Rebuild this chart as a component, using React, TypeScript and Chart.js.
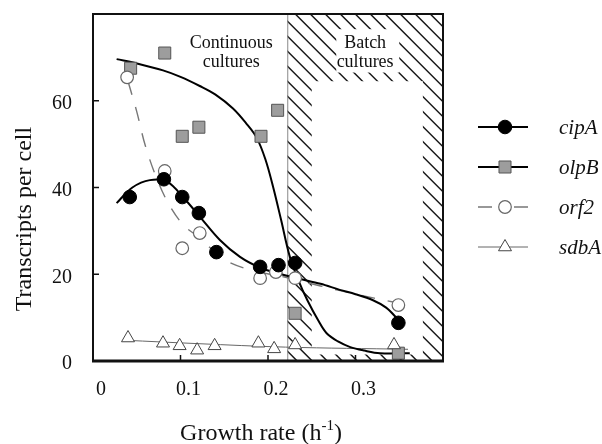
import React, { useEffect, useRef } from "react";
import { Chart, registerables } from "chart.js";

Chart.register(...registerables);

// ---- measured data ----
const cipAX = [0.042, 0.081, 0.102, 0.121, 0.141, 0.191, 0.212, 0.231, 0.349];
const cipAY = [37.8, 41.9, 37.8, 34.1, 25.1, 21.7, 22.1, 22.6, 8.8];
const olpBX = [0.043, 0.082, 0.102, 0.121, 0.192, 0.211, 0.231, 0.349];
const olpBY = [67.5, 71.0, 51.8, 53.9, 51.8, 57.8, 11.0, 1.8];
const orf2X = [0.039, 0.082, 0.102, 0.122, 0.191, 0.209, 0.231, 0.349];
const orf2Y = [65.4, 43.8, 26.0, 29.5, 19.1, 20.5, 19.1, 12.9];
const sdbAX = [0.04, 0.08, 0.099, 0.119, 0.139, 0.189, 0.207, 0.231, 0.344];
const sdbAY = [5.3, 4.1, 3.5, 2.5, 3.5, 4.1, 2.8, 3.7, 3.7];

// ---- fitted curves ----
const cipAFitX = [0.027, 0.045, 0.065, 0.085, 0.105, 0.122, 0.145, 0.168, 0.191, 0.21, 0.235, 0.26, 0.282, 0.3, 0.32, 0.335, 0.349];
const cipAFitY = [36.4, 40.0, 41.7, 41.3, 37.3, 33.3, 27.9, 24.0, 21.5, 20.3, 19.0, 17.8, 16.4, 15.4, 14.0, 12.3, 9.5];
const olpBFitX = [0.027, 0.05, 0.08, 0.1, 0.122, 0.14, 0.16, 0.175, 0.187, 0.197, 0.206, 0.215, 0.225, 0.235, 0.245, 0.257, 0.267, 0.28, 0.294, 0.31, 0.328, 0.362];
const olpBFitY = [69.6, 68.6, 67.0, 65.5, 63.4, 61.4, 58.2, 54.8, 51.5, 46.5, 40.0, 32.5, 24.0, 18.5, 14.0, 9.5, 6.4, 4.5, 3.2, 2.4, 1.8, 1.8];
const orf2FitX = [0.04, 0.05, 0.06, 0.075, 0.09, 0.105, 0.12, 0.15, 0.18, 0.22, 0.26, 0.3, 0.343];
const orf2FitY = [64.5, 57.5, 49.5, 41.0, 35.0, 31.0, 28.7, 23.4, 21.0, 19.3, 17.3, 15.4, 13.6];
const sdbAFitX = [0.035, 0.12, 0.22, 0.36];
const sdbAFitY = [4.8, 4.0, 3.2, 2.7];

const xTickValues = [0, 0.1, 0.2, 0.3];
const yTickValues = [0, 20, 40, 60];
const seriesNames = ["cipA", "olpB", "orf2", "sdbA"];
const batchStart = 0.222;
const batchInner = { x0: 0.25, x1: 0.377, y0: 1.5, y1: 64.5 };
const batchTextBox = { x0: 0.278, x1: 0.35, y0: 66.5, y1: 76.5 };
const contLabel = { x: 0.158, y1: 73.3, y2: 68.8 };
const batchLabel = { x: 0.311, y1: 73.3, y2: 68.8 };

const SERIF = '"Liberation Serif", "Times New Roman", serif';

const pts = (xs: number[], ys: number[]) => xs.map((x, i) => ({ x, y: ys[i] }));

type Mk = { kind: string; r: number; fill: string; stroke: string; lw: number };
const markers: Mk[] = [
  { kind: "circle", r: 6.8, fill: "#000", stroke: "#000", lw: 1 },
  { kind: "rect", r: 8.5, fill: "#9d9d9d", stroke: "#555", lw: 1 },
  { kind: "circle", r: 6.3, fill: "#fff", stroke: "#666", lw: 1.2 },
  { kind: "triangle", r: 7.5, fill: "#fff", stroke: "#444", lw: 1 },
];
const lines = [
  { color: "#000", width: 2, dash: [] as number[] },
  { color: "#000", width: 2, dash: [] as number[] },
  { color: "#777", width: 1.4, dash: [14, 13] },
  { color: "#666", width: 1, dash: [] as number[] },
];

function drawMarker(ctx: CanvasRenderingContext2D, m: Mk, x: number, y: number) {
  ctx.save();
  ctx.fillStyle = m.fill;
  ctx.strokeStyle = m.stroke;
  ctx.lineWidth = m.lw;
  ctx.setLineDash([]);
  ctx.beginPath();
  if (m.kind === "circle") {
    ctx.arc(x, y, m.r, 0, Math.PI * 2);
  } else if (m.kind === "rect") {
    const s = Math.SQRT1_2 * m.r;
    ctx.rect(x - s, y - s, 2 * s, 2 * s);
  } else {
    const r = m.r;
    ctx.moveTo(x, y - r);
    ctx.lineTo(x + r * Math.cos(Math.PI / 6), y + r / 2);
    ctx.lineTo(x - r * Math.cos(Math.PI / 6), y + r / 2);
    ctx.closePath();
  }
  ctx.fill();
  ctx.stroke();
  ctx.restore();
}

const decoPlugin = {
  id: "deco",
  beforeDatasetsDraw(chart: any) {
    const { ctx, chartArea: ca, scales } = chart;
    const x = scales.x, y = scales.y;
    const hx = x.getPixelForValue(batchStart);
    ctx.save();
    ctx.beginPath();
    ctx.rect(hx, ca.top, ca.right - hx, ca.bottom - ca.top);
    ctx.clip();
    ctx.strokeStyle = "#151515";
    ctx.lineWidth = 1.5;
    const h = ca.bottom - ca.top;
    for (let sx = hx - h - 5; sx < ca.right + 20; sx += 15) {
      ctx.beginPath();
      ctx.moveTo(sx, ca.top);
      ctx.lineTo(sx + h, ca.bottom);
      ctx.stroke();
    }
    ctx.fillStyle = "#fff";
    const ix0 = x.getPixelForValue(batchInner.x0), ix1 = x.getPixelForValue(batchInner.x1);
    const iy0 = y.getPixelForValue(batchInner.y1), iy1 = y.getPixelForValue(batchInner.y0);
    ctx.fillRect(ix0, iy0, ix1 - ix0, iy1 - iy0);
    const tx0 = x.getPixelForValue(batchTextBox.x0), tx1 = x.getPixelForValue(batchTextBox.x1);
    const ty0 = y.getPixelForValue(batchTextBox.y1), ty1 = y.getPixelForValue(batchTextBox.y0);
    ctx.fillRect(tx0, ty0, tx1 - tx0, ty1 - ty0);
    ctx.restore();

    ctx.save();
    ctx.strokeStyle = "#888";
    ctx.lineWidth = 1;
    ctx.beginPath();
    ctx.moveTo(hx + 0.5, ca.top);
    ctx.lineTo(hx + 0.5, ca.bottom);
    ctx.stroke();

    ctx.fillStyle = "#111";
    ctx.font = `18px ${SERIF}`;
    ctx.textAlign = "center";
    ctx.textBaseline = "middle";
    ctx.fillText("Continuous", x.getPixelForValue(contLabel.x), y.getPixelForValue(contLabel.y1));
    ctx.fillText("cultures", x.getPixelForValue(contLabel.x), y.getPixelForValue(contLabel.y2));
    ctx.fillText("Batch", x.getPixelForValue(batchLabel.x), y.getPixelForValue(batchLabel.y1));
    ctx.fillText("cultures", x.getPixelForValue(batchLabel.x), y.getPixelForValue(batchLabel.y2));
    ctx.restore();
  },
  afterDraw(chart: any) {
    const { ctx, chartArea: ca, scales } = chart;
    const x = scales.x, y = scales.y;
    ctx.save();
    ctx.strokeStyle = "#111";
    ctx.setLineDash([]);
    // frame
    ctx.lineWidth = 2;
    ctx.beginPath();
    ctx.moveTo(ca.left, ca.bottom);
    ctx.lineTo(ca.left, ca.top);
    ctx.lineTo(ca.right, ca.top);
    ctx.lineTo(ca.right, ca.bottom);
    ctx.stroke();
    ctx.lineWidth = 3;
    ctx.beginPath();
    ctx.moveTo(ca.left - 1, ca.bottom);
    ctx.lineTo(ca.right + 1, ca.bottom);
    ctx.stroke();
    // inward ticks
    ctx.lineWidth = 1.5;
    xTickValues.forEach((v) => {
      if (v <= 0) return;
      const px = x.getPixelForValue(v);
      ctx.beginPath();
      ctx.moveTo(px, ca.bottom);
      ctx.lineTo(px, ca.bottom - 6);
      ctx.stroke();
    });
    yTickValues.forEach((v) => {
      if (v <= 0) return;
      const py = y.getPixelForValue(v);
      ctx.beginPath();
      ctx.moveTo(ca.left, py);
      ctx.lineTo(ca.left + 6, py);
      ctx.stroke();
    });

    // axis titles
    ctx.fillStyle = "#111";
    ctx.textBaseline = "alphabetic";
    const main = "Growth rate (h";
    const sup = "-1";
    const close = ")";
    ctx.font = `24px ${SERIF}`;
    const w1 = ctx.measureText(main).width;
    const w3 = ctx.measureText(close).width;
    ctx.font = `15px ${SERIF}`;
    const w2 = ctx.measureText(sup).width;
    const cx = (ca.left + ca.right) / 2 - 7;
    let sx = cx - (w1 + w2 + w3) / 2;
    const base = ca.bottom + 79;
    ctx.textAlign = "left";
    ctx.font = `24px ${SERIF}`;
    ctx.fillText(main, sx, base);
    ctx.font = `15px ${SERIF}`;
    ctx.fillText(sup, sx + w1, base - 10);
    ctx.font = `24px ${SERIF}`;
    ctx.fillText(close, sx + w1 + w2, base);

    ctx.save();
    ctx.translate(25, ca.top + 205);
    ctx.rotate(-Math.PI / 2);
    ctx.textAlign = "center";
    ctx.textBaseline = "middle";
    ctx.font = `24px ${SERIF}`;
    ctx.fillText("Transcripts per cell", 0, 0);
    ctx.restore();

    // legend
    const lx0 = ca.right + 35, lx1 = ca.right + 85, mx = ca.right + 62, tx = ca.right + 116;
    seriesNames.forEach((name, i) => {
      const ly = ca.top + 113 + i * 40;
      const L = lines[i];
      ctx.save();
      ctx.strokeStyle = L.color;
      ctx.lineWidth = L.width;
      if (L.dash.length) {
        ctx.beginPath();
        ctx.moveTo(lx0, ly);
        ctx.lineTo(lx0 + 14, ly);
        ctx.moveTo(lx1 - 14, ly);
        ctx.lineTo(lx1, ly);
        ctx.stroke();
      } else {
        ctx.beginPath();
        ctx.moveTo(lx0, ly);
        ctx.lineTo(lx1, ly);
        ctx.stroke();
      }
      ctx.restore();
      drawMarker(ctx, markers[i], mx, ly);
      ctx.fillStyle = "#111";
      ctx.font = `italic 21px ${SERIF}`;
      ctx.textAlign = "left";
      ctx.textBaseline = "middle";
      ctx.fillText(name, tx, ly + 1);
    });
    ctx.restore();
  },
};

export default function App() {
  const ref = useRef<HTMLCanvasElement | null>(null);
  useEffect(() => {
    if (!ref.current) return;
    const fitSets = [
      [cipAFitX, cipAFitY],
      [olpBFitX, olpBFitY],
      [orf2FitX, orf2FitY],
      [sdbAFitX, sdbAFitY],
    ].map(([xs, ys], i) => ({
      label: seriesNames[i] + " fit",
      data: pts(xs, ys),
      showLine: true,
      borderColor: lines[i].color,
      borderWidth: lines[i].width,
      borderDash: lines[i].dash,
      pointRadius: 0,
      tension: 0.35,
      fill: false,
      order: 10 + i,
    }));
    const pointSets = [
      [cipAX, cipAY],
      [olpBX, olpBY],
      [orf2X, orf2Y],
      [sdbAX, sdbAY],
    ].map(([xs, ys], i) => ({
      label: seriesNames[i],
      data: pts(xs, ys),
      showLine: false,
      pointStyle: markers[i].kind,
      pointRadius: markers[i].r,
      pointBackgroundColor: markers[i].fill,
      pointBorderColor: markers[i].stroke,
      pointBorderWidth: markers[i].lw,
      borderColor: markers[i].stroke,
      order: [1, 4, 2, 3][i],
    }));
    const tickFont = { family: SERIF, size: 20 };
    const chart = new Chart(ref.current, {
      type: "line",
      data: { datasets: [...pointSets, ...fitSets] as any },
      options: {
        animation: false,
        responsive: false,
        maintainAspectRatio: false,
        layout: { padding: { left: 0, top: 14, right: 159, bottom: 0 } },
        plugins: { legend: { display: false }, tooltip: { enabled: false } },
        scales: {
          x: {
            type: "linear",
            min: 0,
            max: 0.4,
            afterFit: (s: any) => { s.height = 83; s.paddingLeft = 0; s.paddingRight = 0; },
            grid: { display: false, drawTicks: false },
            border: { display: false },
            ticks: {
              stepSize: 0.1,
              padding: 17,
              labelOffset: 8,
              maxRotation: 0,
              autoSkip: false,
              color: "#111",
              font: tickFont,
              callback: (v: any) => {
                const n = Number(v);
                if (n > 0.35) return "";
                return n === 0 ? "0" : n.toFixed(1);
              },
            },
          },
          y: {
            type: "linear",
            min: 0,
            max: 80,
            afterFit: (s: any) => { s.width = 93; s.paddingTop = 0; s.paddingBottom = 0; },
            grid: { display: false, drawTicks: false },
            border: { display: false },
            ticks: {
              stepSize: 20,
              padding: 21,
              labelOffset: 3,
              color: "#111",
              font: tickFont,
              callback: (v: any) => (Number(v) >= 80 ? "" : String(v)),
            },
          },
        },
      },
      plugins: [decoPlugin],
    });
    return () => chart.destroy();
  }, []);
  return (
    <div style={{ position: "absolute", left: 0, top: 0, width: 602, height: 444, background: "#fff" }}>
      <canvas ref={ref} width={602} height={444} style={{ display: "block", width: 602, height: 444 }} />
    </div>
  );
}
